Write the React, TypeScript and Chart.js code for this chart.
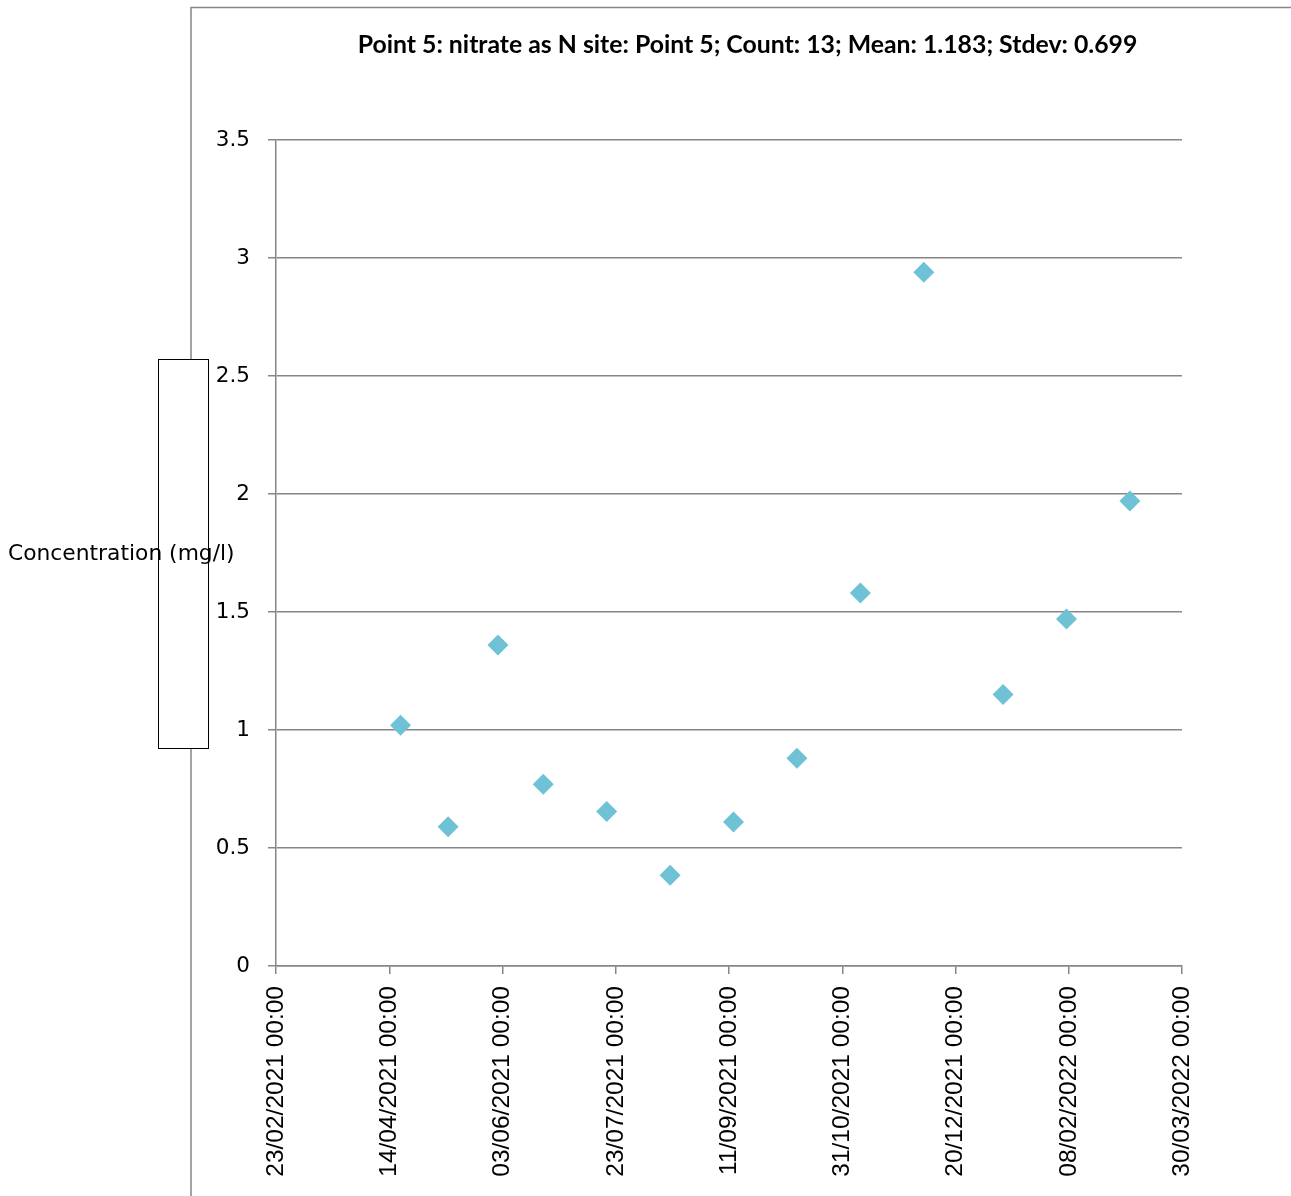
import { useEffect, useRef } from "react";
import { Chart, registerables } from "chart.js";

Chart.register(...registerables);

// Sampling dates and measured nitrate (as N) concentrations, mg/l
const sampleDates = [
  "2021-04-19", "2021-05-10", "2021-06-01", "2021-06-21", "2021-07-19",
  "2021-08-16", "2021-09-13", "2021-10-11", "2021-11-08", "2021-12-06",
  "2022-01-10", "2022-02-07", "2022-03-07",
];
const nitrateN = [1.02, 0.59, 1.36, 0.77, 0.655, 0.385, 0.61, 0.88, 1.58, 2.94, 1.15, 1.47, 1.97];

// Axis ranges
const axisStart = "2021-02-23";
const axisEnd = "2022-03-30";
const dayStep = 50;
const yMin = 0;
const yMax = 3.5;
const yStep = 0.5;

const chartTitle = "Point 5: nitrate as N site: Point 5; Count: 13; Mean: 1.183; Stdev: 0.699";
const yTitle = "Concentration (mg/l)";

const DAY = 86400000;
const startMs = Date.parse(axisStart + "T00:00:00Z");
const toDays = (iso: string) => (Date.parse(iso + "T00:00:00Z") - startMs) / DAY;

const pad2 = (n: number) => String(n).padStart(2, "0");
const fmtDate = (days: number) => {
  const d = new Date(startMs + Math.round(days) * DAY);
  return `${pad2(d.getUTCDate())}/${pad2(d.getUTCMonth() + 1)}/${d.getUTCFullYear()} 00:00`;
};

const GRID = "#868686";

const decorations = {
  id: "decorations",
  beforeDraw(chart: any) {
    const ctx = chart.ctx;
    ctx.save();
    ctx.fillStyle = "#ffffff";
    ctx.fillRect(0, 0, chart.width, chart.height);
    // outer frame (left and top edges)
    ctx.strokeStyle = GRID;
    ctx.lineWidth = 1.5;
    ctx.beginPath();
    ctx.moveTo(191, chart.height);
    ctx.lineTo(191, 7.5);
    ctx.lineTo(chart.width, 7.5);
    ctx.stroke();
    ctx.restore();
  },
  afterDraw(chart: any) {
    const ctx = chart.ctx;
    ctx.save();
    // empty legend box
    ctx.fillStyle = "#ffffff";
    ctx.fillRect(158.5, 359.5, 50, 389);
    ctx.strokeStyle = "#000000";
    ctx.lineWidth = 1;
    ctx.strokeRect(158.5, 359.5, 50, 389);
    // y-axis title, horizontal
    ctx.fillStyle = "#000000";
    ctx.font = '21.8px "DejaVu Sans"';
    ctx.textAlign = "left";
    ctx.textBaseline = "middle";
    ctx.fillText(yTitle, 8, 554);
    // chart title
    ctx.font = 'bold 24.8px Lato';
    ctx.textAlign = "center";
    ctx.fillText(chartTitle, 747.5, 45);
    ctx.restore();
  },
};

export default function App() {
  const ref = useRef<HTMLCanvasElement | null>(null);

  useEffect(() => {
    if (!ref.current) return;
    const points = sampleDates.map((d, i) => ({ x: toDays(d), y: nitrateN[i] }));
    const chart = new Chart(ref.current, {
      type: "scatter",
      data: {
        datasets: [
          {
            label: "nitrate as N",
            data: points,
            pointStyle: "rectRot",
            pointRadius: 10.5,
            pointHoverRadius: 10.5,
            backgroundColor: "#6fc2d6",
            borderWidth: 0,
          },
        ],
      },
      options: {
        responsive: false,
        animation: false,
        devicePixelRatio: 1,
        layout: { padding: { top: 140, right: 109, left: 0, bottom: 0 } },
        plugins: {
          legend: { display: false },
          title: { display: false },
          tooltip: { enabled: false },
        },
        scales: {
          x: {
            type: "linear",
            position: "bottom",
            min: 0,
            max: toDays(axisEnd),
            afterFit: (s: any) => { s.height = 230; },
            ticks: {
              stepSize: dayStep,
              maxRotation: 90,
              minRotation: 90,
              padding: 12,
              color: "#000",
              font: { family: '"Liberation Sans"', size: 24.5 },
              callback: (v: any) => fmtDate(Number(v)),
            },
            grid: { drawOnChartArea: false, drawTicks: true, tickLength: 8, color: GRID, lineWidth: 1.5 },
            border: { display: true, color: GRID, width: 1.5 },
          },
          y: {
            min: yMin,
            max: yMax,
            afterFit: (s: any) => { s.width = 276; },
            ticks: {
              stepSize: yStep,
              padding: 18,
              color: "#000",
              font: { family: '"DejaVu Sans"', size: 21.5 },
              callback: (v: any) => String(v),
            },
            grid: { color: GRID, lineWidth: 1.5, tickLength: 8 },
            border: { display: true, color: GRID, width: 1.5 },
          },
        },
      },
      plugins: [decorations],
    });
    return () => chart.destroy();
  }, []);

  return (
    <div style={{ position: "fixed", left: 0, top: 0, width: 1291, height: 1196 }}>
      <canvas ref={ref} width={1291} height={1196} />
    </div>
  );
}
